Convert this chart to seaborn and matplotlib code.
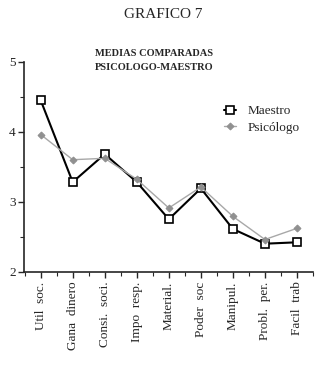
import matplotlib
matplotlib.use("Agg")
import matplotlib.pyplot as plt
from matplotlib.ticker import MultipleLocator, FixedLocator
import seaborn as sns
import pandas as pd

categorias = ["Util  soc.", "Gana  dinero", "Consi.  soci.", "Impo  resp.", "Material.",
              "Poder  soc", "Manipul.", "Probl.  per.", "Facil  trab"]
maestro = [4.45, 3.28, 3.68, 3.28, 2.75, 3.19, 2.61, 2.40, 2.42]
psicologo = [3.96, 3.60, 3.62, 3.32, 2.91, 3.21, 2.79, 2.46, 2.62]

sns.set_style("ticks")
plt.rcParams["font.family"] = ["Liberation Serif", "DejaVu Serif"]

df = pd.DataFrame({
    "pos": list(range(len(categorias))) * 2,
    "media": maestro + psicologo,
    "grupo": ["Maestro"] * len(categorias) + ["Psicólogo"] * len(categorias),
})

fig = plt.figure(figsize=(3.26, 3.83), dpi=100)
ax = fig.add_axes([24 / 326, 1 - 271.7 / 383, 289 / 326, 210 / 383])

sns.lineplot(data=df[df.grupo == "Maestro"], x="pos", y="media", ax=ax,
             color="black", lw=1.5, marker="s", markersize=5.5,
             markerfacecolor="white", markeredgecolor="black", markeredgewidth=1.2,
             label="Maestro")
sns.lineplot(data=df[df.grupo == "Psicólogo"], x="pos", y="media", ax=ax,
             color="#a8a8a8", lw=1.0, marker="D", markersize=3.5,
             markerfacecolor="#909090", markeredgecolor="#909090",
             label="Psicólogo")

ax.set_xlim(-0.52, 8.5)
ax.set_ylim(2, 5)
ax.set_xlabel("")
ax.set_ylabel("")
ax.xaxis.set_major_locator(FixedLocator(range(len(categorias))))
ax.set_xticklabels(categorias, rotation=90, fontsize=9.5)
ax.xaxis.set_minor_locator(MultipleLocator(0.5))
ax.yaxis.set_major_locator(MultipleLocator(1))
ax.yaxis.set_minor_locator(MultipleLocator(0.5))
ax.tick_params(axis="y", which="major", labelsize=9.5, length=4, width=1, pad=2)
ax.tick_params(axis="y", which="minor", length=3, width=0.8)
ax.tick_params(axis="x", which="major", length=4, width=1, pad=3)
ax.tick_params(axis="x", which="minor", length=3, width=0.8)
for s in ("left", "bottom"):
    ax.spines[s].set_linewidth(1.2)
sns.despine(ax=ax)

leg = ax.legend(loc="upper left", bbox_to_anchor=(0.65, 0.85), frameon=False,
                fontsize=9.5, handlelength=0.9, handletextpad=0.9, labelspacing=0.3)

fig.text(0.5, 1 - 14 / 383, "GRAFICO 7", ha="center", va="center", fontsize=11)
fig.text(154 / 326, 1 - 54 / 383, "MEDIAS COMPARADAS", ha="center", va="center",
         fontsize=7.5, fontweight="bold")
fig.text(154 / 326, 1 - 67 / 383, "PSICOLOGO-MAESTRO", ha="center", va="center",
         fontsize=7.5, fontweight="bold")

fig.savefig("out.png", dpi=100)
